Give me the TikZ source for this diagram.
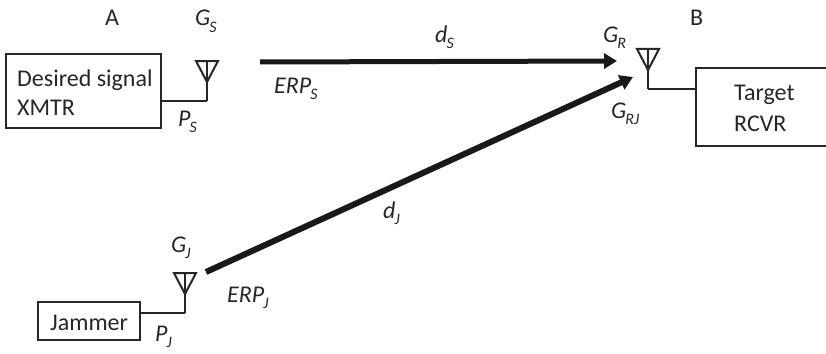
\documentclass[tikz,border=0pt]{standalone}
\usepackage{fontspec}
\setmainfont{Carlito}
\usetikzlibrary{arrows.meta}
\newcommand{\etiq}[2]{\textit{#1}\kern-1pt\raisebox{-0.28em}{\fontsize{16}{16}\selectfont\textit{#2}}}
\begin{document}
\begin{tikzpicture}[x=1pt,y=-1pt,
	caja/.style={draw=black!85, line width=2pt, inner sep=0pt},
	texto/.style={inner sep=0pt, anchor=base west, text=black!85, font=\fontsize{24}{28}\selectfont},
	cable/.style={draw=black!85, line width=2pt},
	haz/.style={draw=black!90, line cap=butt, -{Triangle[length=13pt,width=15pt]}},
	pics/antena/.style={code={
		\draw[cable, line join=miter] (-11,-40) -- (11,-40) -- (0,-19) -- cycle;
		\draw[cable] (0,-40) -- (0,0);
	}}
	]
	\useasboundingbox (0,0) rectangle (826,353);

	%Cajas
	\node[caja, minimum width=155pt, minimum height=74pt] (xmtr) at (83.5,91) {};
	\node[caja, minimum width=102pt, minimum height=38pt] (jammer) at (89,321) {};
	\node[caja, minimum width=150pt, minimum height=78pt] (rcvr) at (771,107) {};

	%Texto de las cajas
	\node[texto] (xmtr1) at (17,86) {Desired signal};
	\node[texto] (xmtr2) at (17,115) {XMTR};
	\node[texto] (jam) at (50,330) {Jammer};
	\node[texto] (rcvr1) at (734,100) {Target};
	\node[texto] (rcvr2) at (734,131) {RCVR};

	%Antenas
	\coordinate (as) at (207,101);
	\coordinate (ar) at (648,89);
	\coordinate (aj) at (185,313);
	\pic at (as) {antena};
	\pic at (ar) {antena};
	\pic at (aj) {antena};

	%Cables
	\draw[cable] (xmtr.east |- as) -- (as);
	\draw[cable] (ar) -- (rcvr.west |- ar);
	\draw[cable] (jammer.east |- aj) -- (aj);

	%Haces
	\coordinate (hs0) at (260,62);
	\coordinate (hs1) at (617,61);
	\coordinate (hj0) at (206,272);
	\coordinate (hj1) at (633,77);
	\draw[haz, line width=5pt] (hs0) -- (hs1);
	\draw[haz, line width=6pt] (hj0) -- (hj1);

	%Etiquetas
	\node[texto] (la) at (105,26) {A};
	\node[texto] (lb) at (690,26) {B};
	\node[texto] (gs) at (195,26) {\etiq{G}{S}};
	\node[texto] (ps) at (178,126) {\etiq{P}{S}};
	\node[texto] (erps) at (274,93) {\etiq{ERP}{S}};
	\node[texto] (ds) at (435,42) {\etiq{d}{S}};
	\node[texto] (gr) at (603,42) {\etiq{G}{R}};
	\node[texto] (grj) at (611,118) {\etiq{G}{RJ}};
	\node[texto] (dj) at (383,218) {\etiq{d}{J}};
	\node[texto] (gj) at (171,252) {\etiq{G}{J}};
	\node[texto] (erpj) at (227,302) {\etiq{ERP}{J}};
	\node[texto] (pj) at (155,341) {\etiq{P}{J}};
\end{tikzpicture}
\end{document}
